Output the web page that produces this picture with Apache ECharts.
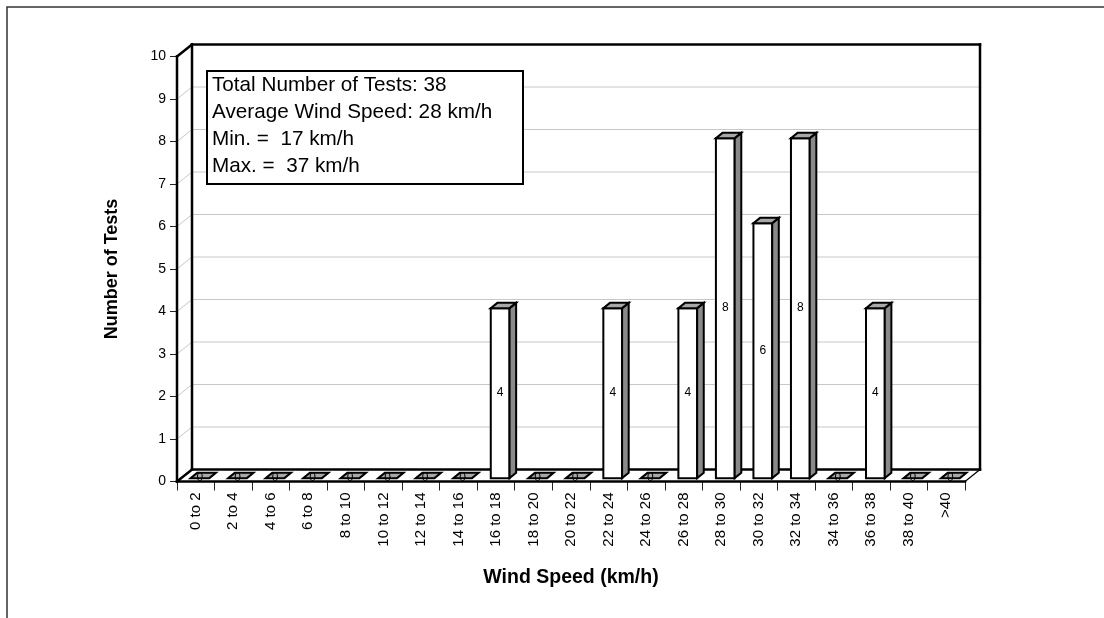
<!DOCTYPE html>
<html>
<head>
<meta charset="utf-8">
<script src="https://cdn.jsdelivr.net/npm/echarts@6/dist/echarts.min.js"></script>
<style>
html,body{margin:0;padding:0;background:#fff;}
#chart{width:1104px;height:618px;}
</style>
</head>
<body>
<div id="chart"></div>
<script>
// ---- data ----
const categories = ['0 to 2','2 to 4','4 to 6','6 to 8','8 to 10','10 to 12','12 to 14','14 to 16','16 to 18','18 to 20','20 to 22','22 to 24','24 to 26','26 to 28','28 to 30','30 to 32','32 to 34','34 to 36','36 to 38','38 to 40','>40'];
const counts = [0,0,0,0,0,0,0,0,4,0,0,4,0,4,8,6,8,0,4,0,0];
const yMin = 0, yMax = 10, yInterval = 1;
const infoLines = ['Total Number of Tests: 38','Average Wind Speed: 28 km/h','Min. =  17 km/h','Max. =  37 km/h'];
const xTitle = 'Wind Speed (km/h)';
const yTitle = 'Number of Tests';

// ---- 3D look ----
const DX = 15, DY = -12;      // wall depth offset
const F1 = 0.28, F2 = 0.72;   // bar front/back depth fraction
const FONT = 'Liberation Sans, Arial, sans-serif';

const chart = echarts.init(document.getElementById('chart'), null, {renderer:'canvas'});

function renderWalls(params, api){
  const cs = params.coordSys;
  const gx = cs.x, gy = cs.y, gw = cs.width, gh = cs.height;
  const children = [];
  const grey = {stroke:'#c8c8c8', lineWidth:1};
  for (let v = yMin + yInterval; v <= yMax; v += yInterval){
    const y = api.coord([0, v])[1];
    children.push({type:'line', shape:{x1:gx, y1:y, x2:gx+DX, y2:y+DY}, style:grey});
    children.push({type:'line', shape:{x1:gx+DX, y1:y+DY, x2:gx+gw+DX, y2:y+DY}, style:grey});
  }
  const blk = {stroke:'#000', lineWidth:2.5, lineCap:'square'};
  const thin = {stroke:'#000', lineWidth:1.2};
  const segs = [
    [gx+DX, gy+gh+DY, gx+DX, gy+DY, blk],
    [gx, gy, gx+DX, gy+DY, blk],
    [gx+DX, gy+DY, gx+gw+DX, gy+DY, blk],
    [gx+gw+DX, gy+DY, gx+gw+DX, gy+gh+DY, blk],
    [gx+DX, gy+gh+DY, gx+gw+DX, gy+gh+DY, blk],
    [gx, gy+gh, gx+DX, gy+gh+DY, blk],
    [gx+gw, gy+gh, gx+gw+DX, gy+gh+DY, thin],
    [gx, gy+gh, gx+gw, gy+gh, blk],
    [gx, gy, gx, gy+gh, blk]
  ];
  segs.forEach(s => children.push({type:'line', shape:{x1:s[0], y1:s[1], x2:s[2], y2:s[3]}, style:s[4]}));
  return {type:'group', children};
}

function renderBar(params, api){
  const idx = api.value(0), v = api.value(1);
  const c = api.coord([idx, v]);
  const b = api.coord([idx, 0]);
  const bw = api.size([1, 0])[0];
  const half = bw * 0.25;
  const fx = F1*DX, fy = F1*DY;
  const ddx = (F2-F1)*DX, ddy = (F2-F1)*DY;
  const L = b[0]-half+fx, R = b[0]+half+fx;
  const base = b[1]+fy, top = c[1]+fy;
  const st = {stroke:'#000', lineWidth:2, lineJoin:'miter'};
  const children = [];
  if (v > 0){
    children.push({type:'polygon', shape:{points:[[L,top],[R,top],[R,base],[L,base]]}, style:Object.assign({fill:'#fff'}, st)});
    children.push({type:'polygon', shape:{points:[[R,top],[R+ddx,top+ddy],[R+ddx,base+ddy],[R,base]]}, style:Object.assign({fill:'#8a8a8a'}, st)});
  }
  children.push({type:'polygon', shape:{points:[[L,top],[R,top],[R+ddx,top+ddy],[L+ddx,top+ddy]]}, style:Object.assign({fill:'#a8a8a8'}, st)});
  children.push({type:'text', x:(L+R)/2, y:(top+base)/2, style:{text:String(v), fill:'#000', font:'12px ' + FONT, align:'center', verticalAlign:'middle'}});
  return {type:'group', children};
}

const barData = categories.map((c, i) => [i, counts[i]]);

chart.setOption({
  animation:false,
  backgroundColor:'#fff',
  grid:{left:177, right:139, top:56.5, bottom:136.5, containLabel:false},
  xAxis:{
    type:'category', data:categories, boundaryGap:true,
    axisLine:{show:false},
    axisTick:{show:true, length:9, lineStyle:{color:'#222', width:1}, alignWithLabel:false},
    axisLabel:{rotate:90, margin:11, fontSize:15, fontFamily:FONT, color:'#000', interval:0},
    splitLine:{show:false},
    name:xTitle, nameLocation:'middle', nameGap:86,
    nameTextStyle:{fontSize:19.5, fontWeight:'bold', fontFamily:FONT, color:'#000'}
  },
  yAxis:{
    type:'value', min:yMin, max:yMax, interval:yInterval,
    axisLine:{show:false},
    axisTick:{show:true, length:7, lineStyle:{color:'#222', width:1}},
    axisLabel:{margin:11, fontSize:14, fontFamily:FONT, color:'#000'},
    splitLine:{show:false},
    name:yTitle, nameLocation:'middle', nameRotate:90, nameGap:56,
    nameTextStyle:{fontSize:18, fontWeight:'bold', fontFamily:FONT, color:'#000'}
  },
  series:[
    {type:'custom', renderItem:renderWalls, data:[[0,0]], clip:false, z:1, silent:true},
    {type:'custom', renderItem:renderBar, data:barData, clip:false, z:3, encode:{x:0, y:1}}
  ],
  graphic:[
    {type:'rect', shape:{x:7, y:7, width:1110, height:630}, style:{fill:null, stroke:'#333', lineWidth:1.5}, z:0, silent:true},
    {type:'rect', shape:{x:207, y:71, width:316, height:113}, style:{fill:'#fff', stroke:'#000', lineWidth:2}, z:10},
    {type:'text', x:212, y:71.5, z:11, style:{text:infoLines.join('\n'), font:'20.7px ' + FONT, lineHeight:27, fill:'#000', verticalAlign:'top', align:'left'}}
  ]
});
</script>
</body>
</html>
